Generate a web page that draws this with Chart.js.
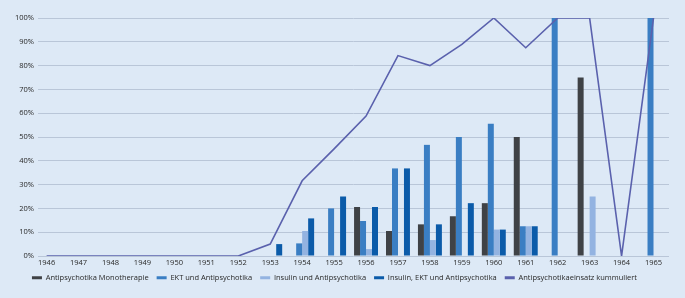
<!DOCTYPE html>
<html><head><meta charset="utf-8">
<script src="https://cdn.jsdelivr.net/npm/chart.js@4/dist/chart.umd.min.js"></script>
<style>html,body{margin:0;padding:0;background:#dde9f6;overflow:hidden}#wrap{position:relative;width:685px;height:298px}</style>
</head><body><div id="wrap"><canvas id="c"></canvas></div>
<script>
const years = [1946,1947,1948,1949,1950,1951,1952,1953,1954,1955,1956,1957,1958,1959,1960,1961,1962,1963,1964,1965];
const monotherapie = [0,0,0,0,0,0,0,0,0,0,20.6,10.5,13.3,16.7,22.2,50,0,75,0,0];
const ektUndAntipsychotika = [0,0,0,0,0,0,0,0,5.3,20,14.7,36.8,46.7,50,55.6,12.5,100,0,0,100];
const insulinUndAntipsychotika = [0,0,0,0,0,0,0,0,10.5,0,2.9,0,6.7,0,11.1,12.5,0,25,0,0];
const insulinEktUndAntipsychotika = [0,0,0,0,0,0,0,5,15.8,25,20.6,36.8,13.3,22.2,11.1,12.5,0,0,0,0];
const kummuliert = [0,0,0,0,0,0,0,5,31.6,45,58.8,84.2,80,88.9,100,87.5,100,100,0,100];
const yTicks = [0,10,20,30,40,50,60,70,80,90,100];
const seriesNames = ['Antipsychotika Monotherapie','EKT und Antipsychotika','Insulin und Antipsychotika','Insulin, EKT und Antipsychotika','Antipsychotikaeinsatz kummuliert'];

const pts = arr => years.map((y, i) => ({x: y, y: arr[i]}));
const FONT = {family: '"Open Sans", sans-serif', size: 7.5};
const TXT = '#282828';

const bgPlugin = {
  id: 'bg',
  beforeDraw(chart) {
    const c = chart.ctx; c.save(); c.fillStyle = '#dde9f6';
    c.fillRect(0, 0, chart.width, chart.height); c.restore();
  }
};

const barDs = (label, data, color) => ({
  type: 'bar', label, data: pts(data), backgroundColor: color, borderWidth: 0,
  categoryPercentage: 0.75, barPercentage: 1, order: 1
});

new Chart(document.getElementById('c'), {
  data: {
    datasets: [
      barDs(seriesNames[0], monotherapie, '#3f4246'),
      barDs(seriesNames[1], ektUndAntipsychotika, '#3a7ec3'),
      barDs(seriesNames[2], insulinUndAntipsychotika, '#93b3e1'),
      barDs(seriesNames[3], insulinEktUndAntipsychotika, '#0b5ba9'),
      {type: 'line', label: seriesNames[4], data: pts(kummuliert), borderColor: '#5a61ad',
       backgroundColor: '#5a61ad', borderWidth: 1.6, pointRadius: 0, tension: 0, order: 0}
    ]
  },
  options: {
    responsive: true, maintainAspectRatio: false, animation: false,
    layout: {padding: {left: 0, right: 16, top: 18, bottom: 6.5}},
    scales: {
      x: {
        type: 'linear', min: 1945.73, max: 1965.485, offset: false,
        afterBuildTicks: s => { s.ticks = years.map(v => ({value: v})); },
        afterFit: s => { s.height = 10; },
        grid: {display: false, drawTicks: false, offset: false}, border: {display: false},
        ticks: {padding: 2, color: TXT, font: FONT, autoSkip: false, maxRotation: 0,
                callback: v => String(v)}
      },
      y: {
        min: 0, max: 100,
        afterBuildTicks: s => { s.ticks = yTicks.map(v => ({value: v})); },
        afterFit: s => { s.width = 38; },
        grid: {color: '#b9c6d8', lineWidth: 1, drawTicks: false}, border: {display: false},
        ticks: {padding: 4, color: TXT, font: FONT, callback: v => v + '%'}
      }
    },
    plugins: {
      tooltip: {enabled: false},
      legend: {
        position: 'bottom',
        labels: {
          boxWidth: 10, boxHeight: 3, padding: 8, color: TXT, font: FONT,
          sort: (a, b) => a.datasetIndex - b.datasetIndex,
          generateLabels: chart => Chart.defaults.plugins.legend.labels.generateLabels(chart)
            .map(it => Object.assign(it, {lineWidth: 0}))
        }
      }
    }
  },
  plugins: [bgPlugin]
});
</script></body></html>
